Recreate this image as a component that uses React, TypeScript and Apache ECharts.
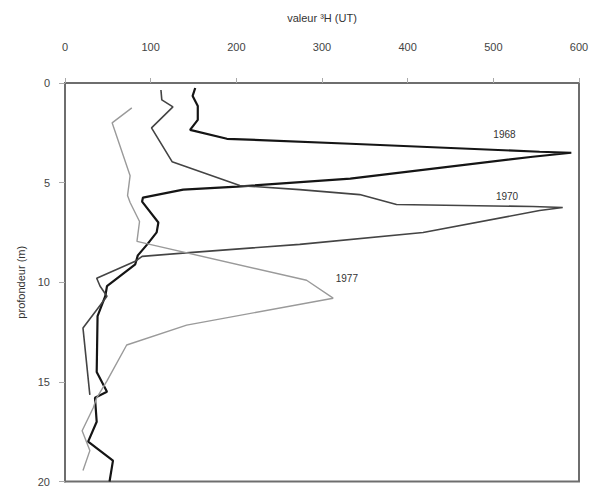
import React, { useEffect, useRef } from "react";
import * as echarts from "echarts";

const xTicks = [0, 100, 200, 300, 400, 500, 600];
const yTicks = [0, 5, 10, 15, 20];

const s1968Val = [152, 149, 155, 155, 146, 189, 333, 554, 591, 546, 333, 201, 138, 91, 90, 109, 107, 96, 85, 82, 49, 47, 38, 37, 49, 35, 37, 27, 56, 52];
const s1968Dep = [0.25, 0.65, 1.15, 1.85, 2.35, 2.8, 3.05, 3.45, 3.5, 3.7, 4.8, 5.2, 5.35, 5.75, 5.95, 7.0, 7.5, 8.1, 8.65, 9.1, 10.2, 10.7, 11.7, 14.5, 15.5, 15.8, 17.0, 18.0, 18.95, 20];

const s1970Val = [112, 113, 126, 101, 125, 204, 274, 344, 387, 546, 581, 554, 418, 274, 149, 90, 82, 37, 41, 49, 21, 29];
const s1970Dep = [0.35, 0.85, 1.2, 2.25, 3.95, 5.15, 5.35, 5.6, 6.1, 6.2, 6.25, 6.4, 7.5, 8.1, 8.5, 8.7, 8.95, 9.8, 10.2, 10.7, 12.3, 15.65];

const s1977Val = [78, 55, 76, 73, 76, 87, 84, 99, 282, 313, 142, 72, 49, 37, 33, 20, 29, 21];
const s1977Dep = [1.25, 2.0, 4.65, 5.65, 6.0, 6.95, 7.95, 8.1, 9.9, 10.8, 12.15, 13.15, 14.95, 15.8, 16.3, 17.45, 18.45, 19.45];

const seriesNames = ["1968", "1970", "1977"];
const labelVal = [513, 516, 329];
const labelDep = [2.6, 5.7, 9.8];

const zip = (a: number[], b: number[]) => a.map((v, i) => [v, b[i]]);

export default function App() {
  const ref = useRef<HTMLDivElement>(null);
  useEffect(() => {
    if (!ref.current) return;
    const chart = echarts.init(ref.current, undefined, { renderer: "svg" });
    const colors = ["#151515", "#444444", "#9a9a9a"];
    const widths = [2.2, 1.6, 1.4];
    const datas = [zip(s1968Val, s1968Dep), zip(s1970Val, s1970Dep), zip(s1977Val, s1977Dep)];
    chart.setOption({
      animation: false,
      backgroundColor: "#ffffff",
      textStyle: { fontFamily: "Liberation Sans, Arial, sans-serif" },
      grid: {
        left: 65,
        right: 24,
        top: 83,
        bottom: 3,
        show: true,
        borderColor: "#6e6e6e",
        borderWidth: 2,
        backgroundColor: "transparent",
      },
      xAxis: {
        type: "value",
        position: "top",
        min: xTicks[0],
        max: xTicks[xTicks.length - 1],
        interval: 100,
        name: "valeur ³H (UT)",
        nameLocation: "middle",
        nameGap: 60,
        nameTextStyle: { color: "#333", fontSize: 11 },
        axisLine: { show: true, lineStyle: { color: "#6e6e6e", width: 2 } },
        axisTick: { show: true, length: 5, lineStyle: { color: "#aaa" } },
        axisLabel: { color: "#444", fontSize: 11, margin: 31 },
        splitLine: { show: false },
      },
      yAxis: {
        type: "value",
        inverse: true,
        min: yTicks[0],
        max: yTicks[yTicks.length - 1],
        interval: 5,
        name: "profondeur (m)",
        nameLocation: "middle",
        nameGap: 38,
        nameTextStyle: { color: "#333", fontSize: 11 },
        axisLine: { show: true, lineStyle: { color: "#6e6e6e", width: 2 } },
        axisTick: { show: true, length: 6, lineStyle: { color: "#aaa" } },
        axisLabel: { color: "#444", fontSize: 11, margin: 15 },
        splitLine: { show: false },
      },
      series: datas.map((d, i) => ({
        type: "line",
        name: seriesNames[i],
        data: d,
        showSymbol: false,
        symbol: "none",
        clip: true,
        lineStyle: { color: colors[i], width: widths[i] },
        markPoint: {
          symbol: "circle",
          symbolSize: 0,
          data: [
            {
              coord: [labelVal[i], labelDep[i]],
              label: {
                show: true,
                formatter: seriesNames[i],
                color: "#333",
                fontSize: 10,
                position: "inside",
              },
            },
          ],
        },
      })),
    });
    return () => chart.dispose();
  }, []);
  return (
    <div
      ref={ref}
      style={{ position: "fixed", left: 0, top: 0, width: 603, height: 487, background: "#fff" }}
    />
  );
}
